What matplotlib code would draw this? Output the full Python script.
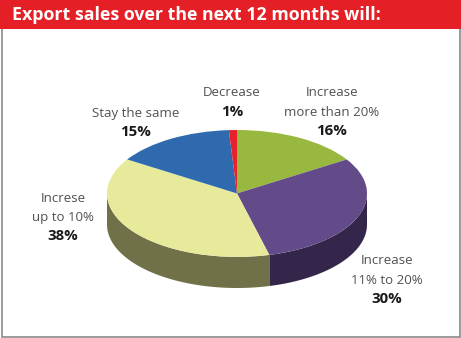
import numpy as np
import matplotlib
matplotlib.use('Agg')
import matplotlib.pyplot as plt
from matplotlib.patches import Polygon, Rectangle

W, H = 461, 338

# survey shares, clockwise from 12 o'clock
labels = ['Increase\nmore than 20%', 'Increase\n11% to 20%', 'Increse\nup to 10%',
          'Stay the same', 'Decrease']
shares = [16, 30, 38, 15, 1]
top_colors = ['#98b83f', '#634a89', '#e8ea9b', '#2f6aae', '#e8222d']
side_colors = ['#5f7330', '#33264a', '#717149', '#1d426d', '#8c151b']

# label anchor points in pixels (x, y of first line)
label_pos = [(332, 93), (387, 261), (63, 198), (136, 113), (232, 93)]

DEPTH = 0.49  # height of the pie wall, in ellipse radii

plt.rcParams['font.family'] = ['Open Sans', 'DejaVu Sans']

fig = plt.figure(figsize=(W / 100, H / 100), dpi=100)
fig.patch.set_facecolor('white')

# frame and red header band
fig.add_artist(Rectangle((1.5 / W, 1.5 / H), (W - 3) / W, (H - 3) / H,
                         transform=fig.transFigure, facecolor='none',
                         edgecolor='#8a8a8a', linewidth=1.2))
fig.add_artist(Rectangle((0, 1 - 29 / H), 1, 29 / H, transform=fig.transFigure,
                         facecolor='#e41f26', edgecolor='none'))
fig.text(12 / W, 1 - 15 / H, 'Export sales over the next 12 months will:',
         color='white', fontsize=12.8, fontweight='bold', va='center', ha='left')

# pie axes: ellipse spans x 107..367, y 130..257, wall down to 288
ax = fig.add_axes([107 / W, (H - 288) / H, 260 / W, 158 / H])
wedges, _ = ax.pie(shares, colors=top_colors, startangle=90, counterclock=False,
                   radius=1, wedgeprops=dict(linewidth=0))
ax.set_aspect('auto')
ax.set_xlim(-1, 1)
ax.set_ylim(-1 - DEPTH, 1)
ax.axis('off')

# front wall: visible part of each slice between 180 and 360 degrees
start = 90.0
for share, col in zip(shares, side_colors):
    end = start - share / sum(shares) * 360
    lo, hi = end, start
    # bring angles into the [-180, 180) window where the front is [-180, 0]
    for shift in (0, -360, 360):
        a0 = max(lo + shift, -180)
        a1 = min(hi + shift, 0)
        if a1 > a0:
            t = np.radians(np.linspace(a0, a1, 60))
            top = np.column_stack([np.cos(t), np.sin(t)])
            bot = top[::-1] - [0, DEPTH]
            ax.add_patch(Polygon(np.vstack([top, bot]), closed=True,
                                 facecolor=col, edgecolor='none', zorder=0))
    start = end

# labels: category lines in grey, share in bold
for lab, share, (px, py) in zip(labels, shares, label_pos):
    lines = lab.split('\n')
    for i, line in enumerate(lines):
        fig.text(px / W, 1 - (py + i * 19) / H, line, color='#505050',
                 fontsize=9.5, ha='center', va='center')
    fig.text(px / W, 1 - (py + len(lines) * 19) / H, f'{share}%', color='#1a1a1a',
             fontsize=10.8, fontweight='bold', ha='center', va='center')

fig.savefig('out.png', dpi=100)
